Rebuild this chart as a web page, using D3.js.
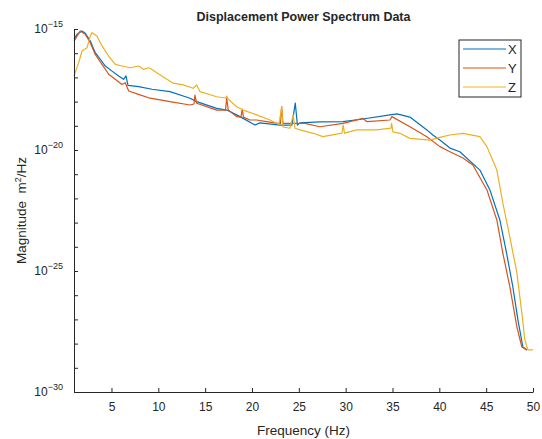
<!DOCTYPE html>
<meta charset="utf-8">
<script src="https://cdn.jsdelivr.net/npm/d3@7"></script>
<style>
    body { margin: 0; background: #fff; }
    text { font-family: "Liberation Sans", Arial, sans-serif; fill: #262626; }
</style>
<div id="chart"></div>
<script>
    // frequency (Hz) and log10 magnitude (m^2/Hz)
    var freqX = [1.0, 1.32, 1.85, 2.21, 2.74, 3.27, 3.81, 4.34, 5.06, 5.77, 6.3, 6.55, 6.76, 7.9, 9.32, 11.25, 13.38, 14.1, 16.23, 17.3, 18.36, 18.72, 20.32, 20.85, 22.98, 24.26, 24.62, 24.85, 25.12, 27.25, 29.71, 31.84, 34.72, 35.47, 36.86, 38.67, 39.31, 40.06, 41.13, 42.19, 44.33, 45.4, 46.46, 47.18, 47.85, 48.39, 48.92, 49.35];
    var magX = [-15.43, -15.22, -15.08, -15.18, -15.5, -15.98, -16.25, -16.53, -16.74, -16.94, -17.08, -16.94, -17.33, -17.38, -17.49, -17.59, -17.86, -18.0, -18.28, -18.35, -18.55, -18.62, -18.97, -18.88, -18.97, -18.97, -18.06, -18.97, -18.88, -18.84, -18.83, -18.72, -18.55, -18.51, -18.64, -19.17, -19.38, -19.59, -19.92, -20.07, -20.83, -21.65, -22.89, -24.26, -25.66, -27.02, -28.14, -28.26];

    var freqY = [1.0, 1.67, 2.21, 2.74, 3.27, 3.99, 4.7, 5.41, 6.12, 6.47, 6.84, 7.9, 9.11, 11.25, 13.38, 13.81, 13.91, 14.1, 16.23, 17.17, 17.3, 17.47, 18.36, 18.82, 18.96, 19.09, 19.78, 20.5, 21.56, 22.77, 23.04, 23.17, 23.31, 23.7, 25.65, 27.25, 29.71, 31.84, 32.27, 34.72, 34.94, 36.86, 38.67, 40.06, 41.13, 42.52, 43.58, 45.08, 46.14, 46.78, 47.53, 48.28, 48.81, 49.35];
    var magY = [-15.5, -15.08, -15.22, -15.57, -16.05, -16.46, -16.87, -17.08, -17.29, -17.22, -17.56, -17.7, -17.86, -18.0, -18.14, -18.1, -17.73, -18.07, -18.35, -18.35, -17.86, -18.35, -18.62, -18.64, -18.31, -18.64, -18.76, -18.76, -18.83, -18.9, -18.9, -18.21, -18.9, -18.9, -18.9, -19.04, -18.9, -18.69, -18.83, -18.76, -18.62, -19.04, -19.45, -19.86, -20.07, -20.33, -20.62, -21.65, -22.89, -24.26, -25.66, -27.31, -28.14, -28.26];

    var freqZ = [1.0, 1.5, 1.85, 2.39, 2.74, 2.92, 3.45, 3.99, 4.7, 5.41, 6.12, 7.01, 7.9, 8.44, 8.97, 9.11, 10.5, 11.6, 12.66, 13.73, 14.1, 14.45, 16.23, 17.17, 17.3, 17.44, 18.36, 19.07, 20.5, 21.92, 22.88, 23.17, 23.31, 24.05, 24.4, 24.59, 25.12, 26.54, 27.57, 29.6, 29.74, 29.87, 31.17, 33.3, 34.83, 34.91, 35.04, 35.79, 36.86, 38.99, 40.06, 41.13, 42.52, 44.33, 45.08, 46.14, 46.78, 47.53, 48.28, 48.81, 49.13, 49.45, 50.0];
    var magZ = [-16.94, -16.39, -15.91, -15.77, -15.29, -15.15, -15.29, -15.7, -16.12, -16.46, -16.53, -16.6, -16.53, -16.67, -16.6, -16.62, -16.97, -17.24, -17.31, -17.45, -17.31, -17.59, -17.8, -17.85, -17.77, -17.89, -18.21, -18.35, -18.55, -18.76, -18.95, -18.21, -19.05, -19.1, -18.55, -19.1, -19.17, -19.31, -19.45, -19.3, -18.97, -19.3, -19.17, -19.17, -19.1, -18.9, -19.25, -19.31, -19.52, -19.59, -19.48, -19.38, -19.31, -19.45, -19.86, -20.83, -22.19, -23.6, -25.08, -26.74, -27.85, -28.26, -28.26];

    var seriesNames = ["X", "Y", "Z"];
    var seriesFreq = [freqX, freqY, freqZ];
    var seriesMag = [magX, magY, magZ];
    var colors = ["#0072BD", "#D95319", "#EDB120"];

    var xTicks = [5, 10, 15, 20, 25, 30, 35, 40, 45, 50];
    var yLabelExp = [-15, -20, -25, -30];

    var margin = {top: 29, right: 9, bottom: 47, left: 74},
        width = 542 - margin.left - margin.right,
        height = 439 - margin.top - margin.bottom;

    var svg = d3.select("#chart")
        .append("svg")
        .attr("width", 542)
        .attr("height", 439)
        .append("g")
        .attr("transform", "translate(" + margin.left + "," + margin.top + ")");

    var x = d3.scaleLinear().domain([1, 50]).range([0, width]);
    var y = d3.scaleLog().domain([1e-30, 1e-15]).range([height, 0]);

    // curves
    seriesNames.forEach(function(name, i) {
        var pts = seriesFreq[i].map(function(f, j) { return [f, Math.pow(10, seriesMag[i][j])]; });
        svg.append("path")
            .datum(pts)
            .attr("fill", "none")
            .attr("stroke", colors[i])
            .attr("stroke-width", 1.2)
            .attr("stroke-linejoin", "round")
            .attr("d", d3.line()
                .x(function(d) { return x(d[0]); })
                .y(function(d) { return y(d[1]); }));
    });

    // X axis (ticks pointing inward)
    var xAxis = svg.append("g")
        .attr("transform", "translate(0," + height + ")")
        .call(d3.axisBottom(x).tickValues(xTicks).tickSizeInner(-4).tickSizeOuter(0).tickPadding(10));
    xAxis.select(".domain").attr("stroke", "#262626");
    xAxis.selectAll("line").attr("stroke", "#262626");
    xAxis.selectAll("text").style("font-size", "12px").attr("fill", "#262626");

    // Y axis, tick at every decade, labels every 5 decades
    var decades = d3.range(-30, -14).map(function(e) { return Math.pow(10, e); });
    var yAxis = svg.append("g")
        .call(d3.axisLeft(y).tickValues(decades).tickSizeInner(-4).tickSizeOuter(0).tickFormat(""));
    yAxis.select(".domain").attr("stroke", "#262626");
    yAxis.selectAll("line").attr("stroke", "#262626");

    yLabelExp.forEach(function(e) {
        var t = svg.append("text")
            .attr("x", -11)
            .attr("y", y(Math.pow(10, e)) + 4)
            .attr("text-anchor", "end")
            .style("font-size", "12px");
        t.append("tspan").text("10");
        t.append("tspan").attr("dy", -6).style("font-size", "9px").text(String(e).replace("-", "\u2212"));
    });

    // title
    svg.append("text")
        .attr("x", width / 2)
        .attr("y", -8)
        .attr("text-anchor", "middle")
        .style("font-size", "12.5px")
        .style("font-weight", "bold")
        .attr("fill", "#000")
        .text("Displacement Power Spectrum Data");

    // X axis label
    svg.append("text")
        .attr("x", width / 2)
        .attr("y", height + 43)
        .attr("text-anchor", "middle")
        .style("font-size", "13.5px")
        .text("Frequency (Hz)");

    // Y axis label
    var yl = svg.append("text")
        .attr("transform", "translate(-48," + (height / 2) + ") rotate(-90)")
        .attr("text-anchor", "middle")
        .style("font-size", "13.5px");
    yl.append("tspan").text("Magnitude\u00a0\u00a0m");
    yl.append("tspan").attr("dy", -5).style("font-size", "9px").text("2");
    yl.append("tspan").attr("dy", 5).text("/Hz");

    // legend
    var lg = svg.append("g").attr("transform", "translate(" + (459 - margin.left) + "," + (40 - margin.top) + ")");
    lg.append("rect")
        .attr("width", 62).attr("height", 57)
        .attr("fill", "#fff").attr("stroke", "#262626").attr("stroke-width", 1);
    seriesNames.forEach(function(name, i) {
        var ly = 9 + i * 19;
        lg.append("line")
            .attr("x1", 4).attr("x2", 47)
            .attr("y1", ly).attr("y2", ly)
            .attr("stroke", colors[i]).attr("stroke-width", 1.2);
        lg.append("text")
            .attr("x", 49).attr("y", ly + 5)
            .style("font-size", "13px")
            .text(name);
    });
</script>
